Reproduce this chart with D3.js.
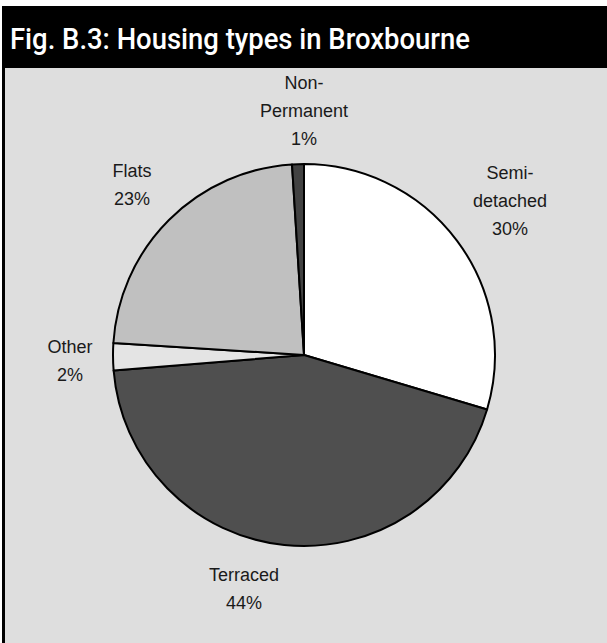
<!DOCTYPE html>
<html>
<head>
  <meta charset="utf-8">
  <script src="https://d3js.org/d3.v7.min.js"></script>
  <style>
    body { margin: 0; background: #fff; }
    text { font-family: "Liberation Sans", Arial, sans-serif; }
  </style>
</head>
<body>
<div id="chart"></div>
<script>
// housing types, share of dwellings (%)
const categories = ["Semi-detached", "Terraced", "Other", "Flats", "Non-Permanent"];
const values = [29.6, 44.1, 2.3, 23.0, 1.0];
const labelLines = [["Semi-", "detached", "30%"], ["Terraced", "44%"], ["Other", "2%"], ["Flats", "23%"], ["Non-", "Permanent", "1%"]];
const fills = ["#ffffff", "#4f4f4f", "#e4e4e4", "#c0c0c0", "#424242"];

const width = 607, height = 643;
const cx = 304, cy = 355, r = 191;
// where each label block is centred (layout only)
const labelAt = [[510, 200], [244, 588], [70, 360], [132, 184], [304, 110]];

const svg = d3.select("#chart").append("svg")
  .attr("width", width)
  .attr("height", height);

// frame + header
svg.append("rect")
  .attr("x", 3.5).attr("y", 7.5)
  .attr("width", width + 10).attr("height", height + 10)
  .attr("fill", "#dedede")
  .attr("stroke", "#000").attr("stroke-width", 3);
svg.append("rect")
  .attr("x", 2).attr("y", 6)
  .attr("width", width).attr("height", 62)
  .attr("fill", "#000");
svg.append("text")
  .attr("x", 10).attr("y", 49)
  .attr("fill", "#fff")
  .style("font-family", "Roboto, 'Liberation Sans', sans-serif")
  .attr("font-size", 29)
  .attr("font-weight", 500)
  .attr("textLength", 460)
  .attr("lengthAdjust", "spacingAndGlyphs")
  .text("Fig. B.3: Housing types in Broxbourne");

const pie = d3.pie().sort(null).value(d => d)(values);
const arc = d3.arc().innerRadius(0).outerRadius(r);

const g = svg.append("g").attr("transform", `translate(${cx},${cy})`);
g.selectAll("path")
  .data(pie)
  .join("path")
    .attr("d", arc)
    .attr("fill", (d, i) => fills[i])
    .attr("stroke", "#000")
    .attr("stroke-width", 2)
    .attr("stroke-linejoin", "round");

const lh = 28;
svg.selectAll("text.lbl")
  .data(categories)
  .join("text")
    .attr("class", "lbl")
    .attr("text-anchor", "middle")
    .attr("font-size", 18)
    .attr("fill", "#1a1a1a")
    .each(function(d, i) {
      const lines = labelLines[i];
      const y0 = labelAt[i][1] - (lines.length - 1) * lh / 2 + 7;
      d3.select(this).selectAll("tspan")
        .data(lines)
        .join("tspan")
          .attr("x", labelAt[i][0])
          .attr("y", (t, j) => y0 + j * lh)
          .text(t => t);
    });
</script>
</body>
</html>
